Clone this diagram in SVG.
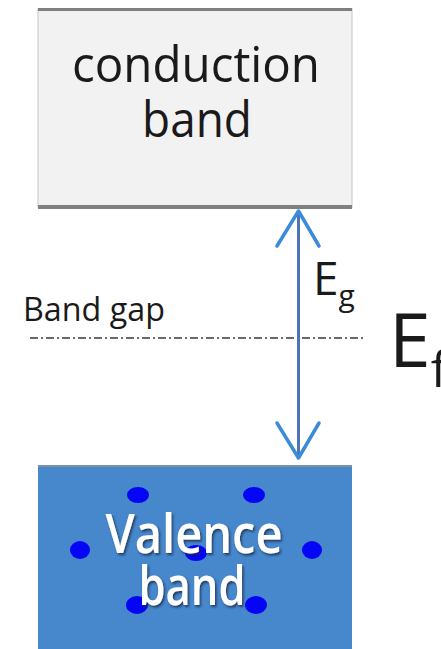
<svg xmlns="http://www.w3.org/2000/svg" width="441" height="649" viewBox="0 0 441 649">
<defs>
<style>
.t{font-family:"Open Sans","Noto Sans","Liberation Sans",sans-serif;}
.dark{fill:#1a1a1a;}
.dot{fill:#0505f5;}
</style>
<filter id="sh" x="-10%" y="-10%" width="120%" height="130%">
<feDropShadow dx="1.5" dy="2" stdDeviation="1.2" flood-color="#1a2a4a" flood-opacity="0.8"/>
</filter>
</defs>
<rect width="441" height="649" fill="#ffffff"/>
<g id="conduction-band">
<rect x="38" y="9" width="314" height="198" fill="#f2f2f2" stroke="#d6d6d6" stroke-width="1.5"/>
<line x1="38" y1="9.5" x2="352" y2="9.5" stroke="#7f7f7f" stroke-width="3"/>
<line x1="38" y1="207" x2="352" y2="207" stroke="#808080" stroke-width="4"/>
<text class="t dark" x="196" y="82" font-size="50" text-anchor="middle" textLength="248" lengthAdjust="spacingAndGlyphs">conduction</text>
<text class="t dark" x="197" y="137" font-size="50" text-anchor="middle" textLength="110" lengthAdjust="spacingAndGlyphs">band</text>
</g>
<g id="valence-band">
<rect x="38" y="465" width="314" height="184" fill="#4787cc"/>
<line x1="38" y1="466" x2="352" y2="466" stroke="#7b8fa8" stroke-width="2"/>
<ellipse class="dot" cx="138" cy="495" rx="11" ry="8"/>
<ellipse class="dot" cx="254" cy="495" rx="11" ry="8"/>
<ellipse class="dot" cx="80" cy="550" rx="10" ry="9"/>
<ellipse class="dot" cx="312" cy="550" rx="10" ry="9"/>
<ellipse class="dot" cx="196" cy="553" rx="11" ry="8"/>
<ellipse class="dot" cx="137" cy="605" rx="11" ry="9"/>
<ellipse class="dot" cx="256" cy="605" rx="11" ry="9"/>
<g filter="url(#sh)" fill="#ffffff" font-weight="600">
<text class="t" x="194" y="553" font-size="54" text-anchor="middle" textLength="177" lengthAdjust="spacingAndGlyphs">Valence</text>
<text class="t" x="192" y="605" font-size="54" text-anchor="middle" textLength="107" lengthAdjust="spacingAndGlyphs">band</text>
</g>
</g>
<g id="band-gap-label">
<text class="t dark" x="23" y="321" font-size="32" textLength="142" lengthAdjust="spacingAndGlyphs">Band gap</text>
</g>
<g id="eg-label">
<text class="t dark" x="313" y="295" font-size="46">E<tspan font-size="30" dy="11">g</tspan></text>
</g>
<g id="ef-label">
<text class="t dark" x="389" y="367" font-size="75">E<tspan font-size="50" dy="20">f</tspan></text>
</g>
<g id="connectors">
<line x1="30" y1="338" x2="363" y2="338" stroke="#3a3a3a" stroke-width="1.6" stroke-dasharray="8 3 2 3"/>
<line x1="298.5" y1="212" x2="298.5" y2="456" stroke="#4f72b8" stroke-width="3"/>
<polyline points="277,246 298.5,211 319,246" fill="none" stroke="#3b8bd8" stroke-width="3.5" stroke-linecap="round" stroke-linejoin="round"/>
<polyline points="277,423 298.5,458 319,423" fill="none" stroke="#3b8bd8" stroke-width="3.5" stroke-linecap="round" stroke-linejoin="round"/>
</g>
</svg>
